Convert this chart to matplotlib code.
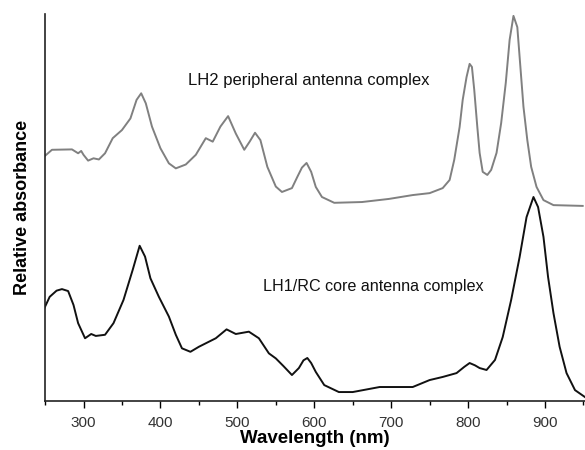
from matplotlib import pyplot as plt
from matplotlib.ticker import MultipleLocator

plt.rcParams['font.family'] = ['Liberation Sans', 'DejaVu Sans']

# LH2 peripheral antenna complex (grey trace)
lh2_nm = [248, 259, 285, 293, 297, 300, 306, 313, 320, 328, 338, 350, 361, 369,
          375, 381, 389, 400, 411, 420, 433, 446, 459, 468, 478, 488, 498, 509,
          516, 523, 530, 539, 550, 558, 571, 578, 584, 590, 596, 602, 610, 626,
          662, 697, 728, 750, 767, 776, 782, 789, 793, 798, 802, 805, 808, 812,
          815, 819, 825, 830, 837, 843, 849, 854, 859, 864, 868, 872, 877, 882,
          889, 898, 911, 949]
lh2_abs = [63.0, 64.9, 65.0, 64.0, 64.6, 63.6, 62.1, 62.7, 62.4, 64.0, 67.9, 70.0,
           73.0, 77.8, 79.5, 76.9, 70.9, 65.3, 61.4, 60.1, 61.1, 63.6, 67.9, 67.0,
           70.9, 73.6, 69.1, 64.9, 67.0, 69.3, 67.4, 60.5, 55.4, 54.0, 55.0, 57.9,
           60.3, 61.5, 59.2, 55.3, 52.7, 51.2, 51.4, 52.2, 53.2, 53.7, 55.0, 57.1,
           62.3, 70.8, 77.8, 83.7, 87.1, 86.3, 80.4, 70.8, 64.1, 59.2, 58.4, 59.7,
           64.1, 71.8, 82.2, 93.3, 99.5, 96.6, 86.3, 76.0, 67.4, 60.5, 55.3, 51.9,
           50.6, 50.4]

# LH1/RC core antenna complex (black trace)
lh1_nm = [248, 256, 265, 272, 280, 287, 293, 302, 310, 316, 328, 339, 352, 364,
          373, 380, 387, 398, 411, 420, 428, 439, 450, 463, 472, 486, 498, 515,
          528, 541, 550, 560, 571, 580, 586, 591, 596, 602, 613, 632, 650, 685,
          728, 750, 767, 785, 795, 802, 809, 815, 824, 835, 845, 856, 867, 876,
          885, 891, 898, 904, 911, 919, 928, 939, 952]
lh1_abs = [23.5, 26.9, 28.5, 28.9, 28.4, 24.8, 20.1, 16.2, 17.3, 16.8, 17.1, 20.1,
           26.1, 33.9, 40.1, 37.3, 31.7, 26.9, 21.8, 17.1, 13.6, 12.7, 14.0, 15.3,
           16.2, 18.5, 17.3, 17.9, 16.2, 12.3, 11.0, 9.0, 6.7, 8.5, 10.5, 11.1,
           9.8, 7.5, 4.1, 2.3, 2.3, 3.6, 3.6, 5.4, 6.2, 7.2, 8.8, 9.8, 9.2, 8.5,
           8.0, 10.6, 16.5, 26.1, 37.2, 47.5, 52.7, 50.1, 42.4, 32.0, 22.7, 14.0,
           7.2, 2.8, 1.0]

fig = plt.figure(figsize=(5.85, 4.5), dpi=100)
ax = fig.add_axes([0.077, 0.109, 0.923, 0.86])

ax.plot(lh2_nm, lh2_abs, color='#808080', lw=1.4, solid_joinstyle='round')
ax.plot(lh1_nm, lh1_abs, color='#111111', lw=1.4, solid_joinstyle='round')

ax.text(0.265, 0.829, "LH2 peripheral antenna complex", fontsize=12,
        transform=ax.transAxes, va='center', ha='left', color='#111111')
ax.text(0.404, 0.295, "LH1/RC core antenna complex", fontsize=11.6,
        transform=ax.transAxes, va='center', ha='left', color='#111111')

ax.set_xlim(250, 952)
ax.set_ylim(0, 100)
ax.xaxis.set_major_locator(MultipleLocator(100))
ax.xaxis.set_minor_locator(MultipleLocator(50))
ax.set_yticks([])
ax.tick_params(axis='x', which='major', direction='out', length=5, width=1,
               labelsize=11, labelcolor='#333333', pad=6)
ax.tick_params(axis='x', which='minor', direction='out', length=3, width=1)
for s in ['top', 'right']:
    ax.spines[s].set_visible(False)
for s in ['left', 'bottom']:
    ax.spines[s].set_linewidth(1.2)
    ax.spines[s].set_color('#222222')

ax.set_xlabel("Wavelength (nm)", fontweight='bold', fontsize=13.5, labelpad=0)
ax.set_ylabel("Relative absorbance", fontweight='bold', fontsize=13, labelpad=10)

fig.savefig("out.png", dpi=100)
